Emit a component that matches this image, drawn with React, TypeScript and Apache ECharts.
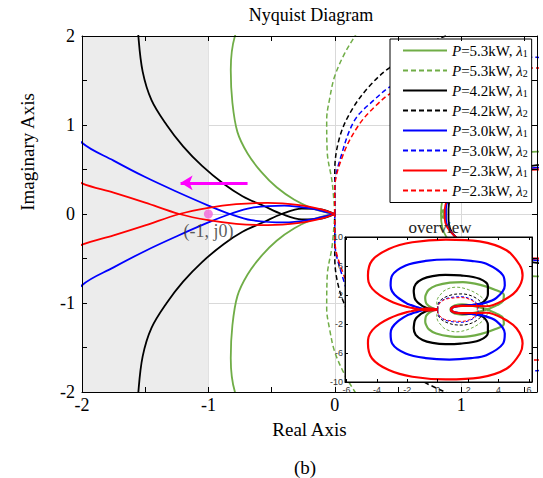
import { useEffect, useRef } from 'react';
import * as echarts from 'echarts';

type P = [number, number];

// ω > 0 halves of each Nyquist locus (real, imag).
// The ω < 0 half is the complex conjugate of the same points.
const green1Half: P[] = [
  [0, 0], [-0.06, 0.015], [-0.18, 0.065], [-0.32, 0.16], [-0.46, 0.3], [-0.58, 0.47], [-0.69, 0.68],
  [-0.77, 0.92], [-0.81, 1.25], [-0.823, 1.62], [-0.79, 2.0], [-0.6, 2.7], [-0.1, 3.3], [0.8, 3.7],
  [1.65, 3.77], [2.8, 3.4], [3.8, 2.7], [4.35, 2.0], [4.3, 1.2], [3.9, 0.6], [3.4, 0.15], [3.0, -0.15],
  [2.4, -0.45], [1.6, -0.7], [1.1, -0.55], [0.88, -0.25], [0.84, 0.0], [0.86, 0.05],
];
const green2Half: P[] = [
  [0, 0], [-0.02, 0.35], [-0.06, 0.7], [-0.064, 1.06], [-0.04, 1.3], [0, 1.55], [0.08, 1.81], [0.16, 2.0],
  [0.4, 2.55], [0.8, 2.95], [1.21, 3.08], [2.0, 2.75], [2.75, 1.93], [3.2, 0.9], [3.3, 0],
];
const black1Half: P[] = [
  [0, 0], [-0.12, -0.055], [-0.26, -0.06], [-0.42, 0], [-0.56, 0.09], [-0.73, 0.2], [-0.88, 0.34],
  [-1.05, 0.54], [-1.2, 0.76], [-1.33, 1.0], [-1.45, 1.28], [-1.52, 1.6], [-1.554, 2.0], [-1.58, 2.6],
  [-1.45, 3.5], [-1.0, 4.2], [-0.34, 4.6], [0.5, 4.78], [1.5, 4.7], [2.75, 4.23], [3.3, 3.2], [3.3, 2.15],
  [2.97, 1.0], [2.4, 0.65], [1.6, 0.55], [1.15, 0.42], [0.95, 0.25], [0.9, 0.06],
];
const black2Half: P[] = [
  [0, 0], [0, 0.25], [0, 0.49], [0.04, 0.87], [0.135, 1.17], [0.27, 1.43], [0.43, 1.64], [0.75, 1.92],
  [1.1, 2.1], [1.6, 2.15], [2.2, 1.9], [2.7, 1.3], [2.95, 0.6], [3.0, 0],
];
const blue1Half: P[] = [
  [0, 0], [-0.05, -0.015], [-0.18, -0.06], [-0.4, -0.095], [-0.66, -0.07], [-0.83, 0], [-1.0, 0.095],
  [-1.25, 0.25], [-1.5, 0.415], [-1.75, 0.6], [-2.0, 0.8], [-2.66, 1.7], [-3.0, 2.5], [-3.1, 3.31],
  [-3.0, 4.69], [-2.11, 6.07], [-0.8, 6.7], [0.76, 6.9], [2.2, 6.7], [3.2, 6.3], [4.3, 4.69], [4.41, 3.31],
  [3.86, 1.6], [3.0, 0.85], [2.2, 0.6], [1.6, 0.52], [1.15, 0.42], [0.95, 0.25], [0.88, 0.06],
];
const blue2Half: P[] = [
  [0, 0], [0, 0.305], [0.056, 0.68], [0.16, 1.06], [0.31, 1.28], [0.44, 1.43], [0.7, 1.6], [1.1, 1.72],
  [1.6, 1.76], [2.1, 1.5], [2.5, 1.0], [2.65, 0.4], [2.66, 0],
];
const red1Half: P[] = [
  [0, 0], [-0.1, -0.05], [-0.28, -0.1], [-0.53, -0.125], [-0.78, -0.11], [-1.0, -0.07], [-1.23, 0],
  [-1.5, 0.128], [-1.75, 0.24], [-2.0, 0.345], [-2.6, 0.72], [-3.2, 1.24], [-3.8, 1.95], [-4.3, 2.84],
  [-4.55, 3.8], [-4.59, 4.69], [-4.32, 6.76], [-3.22, 8.36], [-1.67, 9.28], [0.54, 9.65], [2.75, 9.4],
  [4.52, 8.18], [5.4, 6.1], [5.58, 4.69], [5.19, 2.62], [4.3, 1.24], [3.2, 0.45], [2.5, 0.48], [1.6, 0.5],
  [1.15, 0.42], [0.95, 0.25], [0.87, 0.06],
];
const red2Half: P[] = [
  [0, 0], [0, 0.28], [0.07, 0.68], [0.19, 1.0], [0.32, 1.21], [0.45, 1.36], [0.7, 1.5], [1.1, 1.6],
  [1.6, 1.64], [2.1, 1.4], [2.45, 0.95], [2.6, 0.4], [2.6, 0],
];

const seriesNames = [
  'P=5.3kW, λ1', 'P=5.3kW, λ2', 'P=4.2kW, λ1', 'P=4.2kW, λ2',
  'P=3.0kW, λ1', 'P=3.0kW, λ2', 'P=2.3kW, λ1', 'P=2.3kW, λ2',
];
const seriesHalves = [green1Half, green2Half, black1Half, black2Half, blue1Half, blue2Half, red1Half, red2Half];

const xMainLabels = [-2, -1, 0, 1];
const xMainTicks = [-1.5, -1, -0.5, 0, 0.5, 1, 1.5];
const yMainTicks = [-1.5, -1, -0.5, 0, 0.5, 1, 1.5];
const xInsetTicks = [-6, -4, -2, 0, 2, 4, 6];
const yInsetTicks = [-10, -6, -2, 2, 6, 10];
const shadedRange: P = [-2, -1];
const criticalPoint: P = [-1, 0];
const arrowFrom: P = [-0.69, 0.35];
const arrowTo: P = [-1.22, 0.35];

const GREEN = '#70ad47';
const colors = [GREEN, GREEN, '#000000', '#000000', '#0000ff', '#0000ff', '#ff0000', '#ff0000'];
const SERIF = 'Liberation Serif';
const SANS = 'Liberation Sans';

const conj = (half: P[]): P[] => [
  ...half,
  ...half.slice().reverse().map(([x, y]) => [x, -y] as P),
];

export default function App() {
  const ref = useRef<HTMLDivElement>(null);
  useEffect(() => {
    if (!ref.current) return;
    const chart = echarts.init(ref.current, undefined, { renderer: 'svg' });
    const axisLine = { show: true, onZero: false, lineStyle: { color: '#000', width: 1 } };
    const mainX = { type: 'value', gridIndex: 0, min: -2, max: 1.6, interval: 1 };
    const mainY = { type: 'value', gridIndex: 0, min: -2, max: 2, interval: 1 };
    const insetX = { type: 'value', gridIndex: 1, min: -6.1, max: 6.2 };
    const insetY = { type: 'value', gridIndex: 1, min: -10, max: 10 };

    const mainSeries = seriesNames.map((name, i) => {
      const dashed = i % 2 === 1;
      const s: any = {
        type: 'line', name, xAxisIndex: 0, yAxisIndex: 0, data: conj(seriesHalves[i]),
        symbol: 'none', smooth: 0.35, clip: true, silent: true, z: 2,
        itemStyle: { color: colors[i] },
        lineStyle: { color: colors[i], width: dashed ? 1.5 : 1.8, type: dashed ? [5, 3] : 'solid' },
      };
      if (i === 0) {
        s.markArea = {
          silent: true, itemStyle: { color: '#ececec' },
          data: [[{ xAxis: shadedRange[0] }, { xAxis: shadedRange[1] }]],
        };
      }
      return s;
    });
    const insetSeries = seriesNames.map((name, i) => {
      const dashed = i % 2 === 1;
      return {
        type: 'line', name, xAxisIndex: 3, yAxisIndex: 3, data: conj(seriesHalves[i]),
        symbol: 'none', smooth: 0.35, clip: true, silent: true, z: 11,
        itemStyle: { color: colors[i] },
        lineStyle: { color: colors[i], width: dashed ? 1 : 2.2, type: dashed ? [3, 2] : 'solid' },
      };
    });

    chart.setOption({
      animation: false,
      grid: [
        { left: 82, top: 36, width: 455, height: 356 },
        { left: 345, top: 237, width: 187, height: 145 },
      ],
      legend: {
        orient: 'vertical', left: 390, top: 39, data: seriesNames, selectedMode: false,
        itemWidth: 44, itemHeight: 16, itemGap: 4.5, padding: [4, 4, 4, 12],
        backgroundColor: '#fff', borderColor: '#000', borderWidth: 1,
        itemStyle: { opacity: 0 },
        formatter: (name: string) => {
          const m = name.match(/^P=(.*), λ(\d)$/);
          return m ? `{i|P}{n|=${m[1]}, }{i|λ}{s|${m[2]}}` : name;
        },
        textStyle: {
          fontFamily: SERIF, fontSize: 15, color: '#000',
          rich: {
            n: { fontFamily: SERIF, fontSize: 15, color: '#000', lineHeight: 16 },
            i: { fontFamily: SERIF, fontSize: 15, fontStyle: 'italic', color: '#000', lineHeight: 16 },
            s: { fontFamily: SERIF, fontSize: 10, color: '#000', verticalAlign: 'bottom', lineHeight: 16 },
          },
        },
      },
      xAxis: [
        {
          ...mainX, position: 'bottom', z: 5, axisLine, splitLine: { show: false },
          axisTick: { show: true, inside: true, length: 5, customValues: xMainTicks, lineStyle: { color: '#000' } },
          axisLabel: { customValues: xMainLabels, margin: 4, fontFamily: SERIF, fontSize: 18, color: '#000' },
          name: 'Real Axis', nameLocation: 'middle', nameGap: 28,
          nameTextStyle: { fontFamily: SERIF, fontSize: 19, color: '#000' },
        },
        {
          ...mainX, position: 'top', z: 5, axisLine, splitLine: { show: false },
          axisTick: { show: true, inside: true, length: 5, customValues: xMainTicks, lineStyle: { color: '#000' } },
          axisLabel: { show: false },
        },
        {
          ...mainX, position: 'bottom', z: 0, axisLine: { show: false }, axisTick: { show: false },
          axisLabel: { show: false }, splitLine: { show: true, lineStyle: { color: '#d9d9d9', width: 1 } },
        },
        {
          ...insetX, position: 'bottom', z: 12, axisLine, splitLine: { show: false },
          axisTick: { show: true, inside: true, length: 3, customValues: xInsetTicks, lineStyle: { color: '#000' } },
          axisLabel: { customValues: xInsetTicks, margin: 3, fontFamily: SANS, fontSize: 9, color: '#333' },
        },
        {
          ...insetX, position: 'top', z: 12, axisLine, splitLine: { show: false },
          axisTick: { show: true, inside: true, length: 3, customValues: xInsetTicks, lineStyle: { color: '#000' } },
          axisLabel: { show: false },
        },
      ],
      yAxis: [
        {
          ...mainY, position: 'left', z: 5, axisLine, splitLine: { show: false },
          axisTick: { show: true, inside: true, length: 5, customValues: yMainTicks, lineStyle: { color: '#000' } },
          axisLabel: { margin: 7, fontFamily: SERIF, fontSize: 18, color: '#000' },
        },
        {
          ...mainY, position: 'right', z: 5, axisLine, splitLine: { show: false },
          axisTick: { show: true, inside: true, length: 5, customValues: yMainTicks, lineStyle: { color: '#000' } },
          axisLabel: { show: false },
        },
        {
          ...mainY, position: 'left', z: 0, axisLine: { show: false }, axisTick: { show: false },
          axisLabel: { show: false }, splitLine: { show: true, lineStyle: { color: '#d9d9d9', width: 1 } },
        },
        {
          ...insetY, position: 'left', z: 12, axisLine, splitLine: { show: false },
          axisTick: { show: true, inside: true, length: 3, customValues: yInsetTicks, lineStyle: { color: '#000' } },
          axisLabel: { customValues: yInsetTicks, margin: 2, fontFamily: SANS, fontSize: 9, color: '#333' },
        },
        {
          ...insetY, position: 'right', z: 12, axisLine, splitLine: { show: false },
          axisTick: { show: true, inside: true, length: 3, customValues: yInsetTicks, lineStyle: { color: '#000' } },
          axisLabel: { show: false },
        },
      ],
      graphic: [
        { type: 'rect', z: 10, silent: true, shape: { x: 345, y: 237, width: 187, height: 145 }, style: { fill: '#fff', stroke: '#000', lineWidth: 1 } },
        { type: 'text', z: 20, x: 311, y: 15, style: { text: 'Nyquist Diagram', fontFamily: SERIF, fontSize: 18, fill: '#000', align: 'center', verticalAlign: 'middle' } },
        { type: 'text', z: 20, x: 440, y: 227, style: { text: 'overview', fontFamily: SERIF, fontSize: 17, fill: '#222', align: 'center', verticalAlign: 'middle' } },
        { type: 'text', z: 20, x: 27, y: 152, rotation: Math.PI / 2, style: { text: 'Imaginary Axis', fontFamily: SERIF, fontSize: 19, fill: '#000', align: 'center', verticalAlign: 'middle' } },
        { type: 'text', z: 20, x: 305, y: 467, style: { text: '(b)', fontFamily: SERIF, fontSize: 19, fill: '#000', align: 'center', verticalAlign: 'middle' } },
      ],
      series: [
        ...mainSeries,
        {
          type: 'scatter', xAxisIndex: 0, yAxisIndex: 0, data: [criticalPoint], symbolSize: 9, z: 3, silent: true,
          itemStyle: { color: '#f266d9' },
          label: { show: true, position: 'bottom', distance: 3, formatter: '(-1, j0)', fontFamily: SERIF, fontSize: 18, color: '#333' },
          markLine: {
            silent: true, symbol: ['none', 'arrow'], symbolSize: [11, 12], label: { show: false },
            lineStyle: { color: '#ff00ff', width: 3, type: 'solid' },
            data: [[{ coord: arrowFrom }, { coord: arrowTo }]],
          },
        },
        ...insetSeries,
      ],
    });
    return () => chart.dispose();
  }, []);
  return <div ref={ref} style={{ position: 'absolute', left: 0, top: 0, width: 543, height: 478 }} />;
}
